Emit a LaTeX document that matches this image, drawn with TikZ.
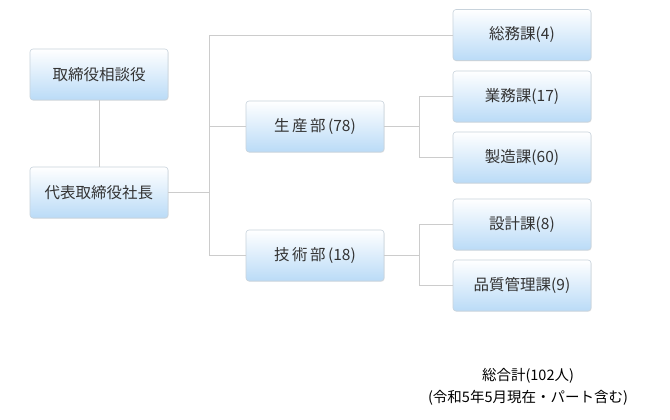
\documentclass[tikz,border=0pt]{standalone}
\usepackage{fontspec}
\setmainfont{Noto Sans CJK JP}
\usetikzlibrary{shadows}
\definecolor{boxtop}{HTML}{FFFFFF}
\definecolor{boxbot}{HTML}{BADBF7}
\definecolor{boxline}{HTML}{C8D3DC}
\definecolor{conn}{HTML}{CCCCCC}
\definecolor{txt}{HTML}{333333}
\newcommand{\gp}{\hspace{2.5pt}}
\begin{document}
\begin{tikzpicture}[x=1pt,y=-1pt,
  orgbox/.style={draw=boxline, line width=0.6pt, rounded corners=3pt,
    top color=boxtop, bottom color=boxbot, minimum width=138pt, minimum height=51pt,
    inner sep=0pt, font=\fontsize{15.5}{17}\selectfont, text=txt,
    drop shadow={shadow xshift=0.6pt, shadow yshift=-0.8pt, opacity=0.15}},
  link/.style={draw=conn, line width=0.8pt},
  note/.style={font=\fontsize{14.5}{16}\selectfont, text=black, inner sep=0pt}]
\useasboundingbox (0,0) rectangle (670,420);
\fill[white] (0,0) rectangle (670,420);
\node[orgbox] (adv) at (99,74.5) {取締役相談役};
\node[orgbox] (ceo) at (99,192.5) {代表取締役社長};
\node[orgbox] (prod) at (315,126.5) {生\gp 産\gp 部\gp (78)};
\node[orgbox] (tech) at (315,255.5) {技\gp 術\gp 部\gp (18)};
\node[orgbox] (gen) at (522,35) {総務課(4)};
\node[orgbox] (biz) at (522,96.5) {業務課(17)};
\node[orgbox] (mfg) at (522,157.5) {製造課(60)};
\node[orgbox] (des) at (522,224.5) {設計課(8)};
\node[orgbox] (qc) at (522,285.5) {品質管理課(9)};
\coordinate (j1) at (209.5,192.5);
\coordinate (j2) at (419.5,126.5);
\coordinate (j3) at (419.5,255.5);
\path[link] (adv.south) -- (ceo.north);
\path[link] (ceo.east) -- (j1);
\path[link] (gen.west) -- (j1 |- gen.west) -- (j1 |- tech.west) -- (tech.west);
\path[link] (j1 |- prod.west) -- (prod.west);
\path[link] (prod.east) -- (j2);
\path[link] (biz.west) -- (j2 |- biz.west) -- (j2 |- mfg.west) -- (mfg.west);
\path[link] (tech.east) -- (j3);
\path[link] (des.west) -- (j3 |- des.west) -- (j3 |- qc.west) -- (qc.west);
\node[note] (total) at (528,376) {総合計(102人)};
\node[note] (asof) at (528,398) {(令和5年5月現在・パート含む)};
\end{tikzpicture}
\end{document}
